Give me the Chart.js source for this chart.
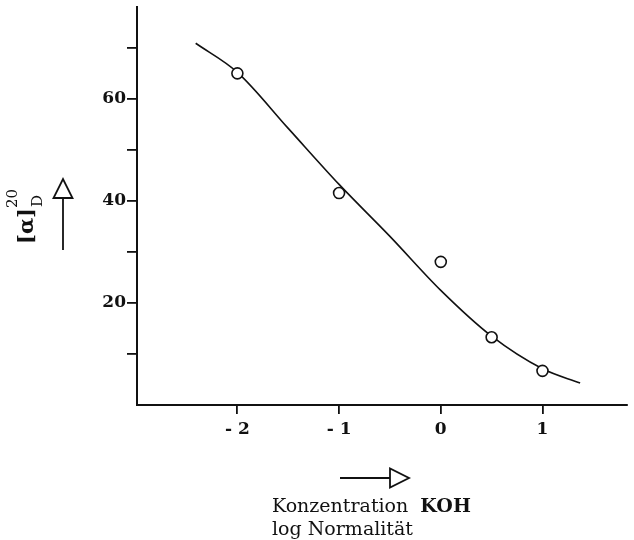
<!DOCTYPE html>
<html>
<head>
<meta charset="utf-8">
<script src="https://cdn.jsdelivr.net/npm/chart.js@4"></script>
<style>
  html, body { margin: 0; padding: 0; background: #fff; }
  #wrap { width: 634px; height: 540px; }
</style>
</head>
<body>
<div id="wrap"><canvas id="chart" width="634" height="540"></canvas></div>
<script>
// measured points (log normality KOH -> [alpha]D20)
const measuredX = [-2, -1, 0, 0.5, 1];
const measuredY = [65, 41.5, 28, 13.2, 6.6];

// fitted curve
const curveX = [-2.41, -2, -1.5, -1, -0.5, 0, 0.5, 1, 1.37];
const curveY = [70.9, 65.2, 54.2, 43.2, 33, 22.4, 13.4, 7.0, 4.2];

const xTicks = [-2, -1, 0, 1];
const xTickLabels = ["- 2", "- 1", "0", "1"];
const yTicks = [10, 20, 30, 40, 50, 60, 70];
const yTickLabels = { 20: "20", 40: "40", 60: "60" };

const xTitleLine1 = "Konzentration";
const xTitleKoh = "KOH";
const xTitleLine2 = "log Normalität";

const serif = "'DejaVu Serif', serif";
const ink = "#111";

const toPoints = (xs, ys) => xs.map((x, i) => ({ x, y: ys[i] }));

// axis titles with their arrows
const axisTitles = {
  id: "axisTitles",
  afterDraw(chart) {
    const ctx = chart.ctx;
    ctx.save();
    ctx.fillStyle = ink;
    ctx.strokeStyle = ink;
    ctx.lineWidth = 1.8;

    // y title, rotated: [α] with 20 above and D below
    ctx.save();
    ctx.translate(33, 244);
    ctx.rotate(-Math.PI / 2);
    ctx.textBaseline = "alphabetic";
    ctx.font = "bold 21px " + serif;
    ctx.fillText("[α]", 0, 0);
    const w = ctx.measureText("[α]").width;
    ctx.font = "15px " + serif;
    ctx.fillText("20", w, -16);
    ctx.fillText("D", w + 1, 9);
    ctx.restore();

    // up arrow
    ctx.beginPath();
    ctx.moveTo(63, 250);
    ctx.lineTo(63, 198);
    ctx.stroke();
    ctx.beginPath();
    ctx.moveTo(53.5, 198);
    ctx.lineTo(72.5, 198);
    ctx.lineTo(63, 179);
    ctx.closePath();
    ctx.stroke();

    // right arrow
    ctx.beginPath();
    ctx.moveTo(340, 478);
    ctx.lineTo(390, 478);
    ctx.stroke();
    ctx.beginPath();
    ctx.moveTo(390, 468.5);
    ctx.lineTo(390, 487.5);
    ctx.lineTo(409, 478);
    ctx.closePath();
    ctx.stroke();

    // x title, two lines
    ctx.textBaseline = "alphabetic";
    ctx.textAlign = "left";
    ctx.font = "19px " + serif;
    ctx.fillText(xTitleLine1, 272, 512);
    const kw = ctx.measureText(xTitleLine1 + "  ").width;
    ctx.font = "bold 19px " + serif;
    ctx.fillText(xTitleKoh, 272 + kw, 512);
    ctx.font = "19px " + serif;
    ctx.fillText(xTitleLine2, 272, 535);
    ctx.restore();
  },
};

new Chart(document.getElementById("chart"), {
  type: "scatter",
  data: {
    datasets: [
      {
        data: toPoints(curveX, curveY),
        showLine: true,
        cubicInterpolationMode: "monotone",
        borderColor: ink,
        borderWidth: 1.6,
        pointRadius: 0,
        order: 2,
      },
      {
        data: toPoints(measuredX, measuredY),
        showLine: false,
        pointRadius: 5.5,
        pointBorderWidth: 1.6,
        pointBorderColor: ink,
        pointBackgroundColor: "#fff",
        order: 1,
      },
    ],
  },
  options: {
    responsive: false,
    animation: false,
    events: [],
    layout: { padding: { left: 0, top: 4, right: 0, bottom: 0 } },
    plugins: {
      legend: { display: false },
      tooltip: { enabled: false },
    },
    scales: {
      x: {
        type: "linear",
        min: -2.987,
        max: 1.83,
        afterBuildTicks: (scale) => {
          scale.ticks = xTicks.map((value) => ({ value }));
        },
        afterFit: (scale) => {
          scale.height = 135;
          scale.paddingLeft = 0;
          scale.paddingRight = 0;
        },
        border: { display: true, color: ink, width: 2 },
        grid: {
          drawOnChartArea: false,
          drawTicks: true,
          tickLength: 9,
          color: ink,
          lineWidth: 1.8,
        },
        ticks: {
          color: ink,
          padding: 5,
          maxRotation: 0,
          font: { family: serif, weight: "bold", size: 17 },
          callback: (v) => xTickLabels[xTicks.indexOf(v)],
        },
      },
      y: {
        type: "linear",
        min: -0.1,
        max: 78,
        afterBuildTicks: (scale) => {
          scale.ticks = yTicks.map((value) => ({ value }));
        },
        afterFit: (scale) => {
          scale.width = 137;
          scale.paddingTop = 0;
          scale.paddingBottom = 0;
        },
        border: { display: true, color: ink, width: 2 },
        grid: {
          drawOnChartArea: false,
          drawTicks: true,
          tickLength: 10,
          color: ink,
          lineWidth: 1.8,
        },
        ticks: {
          color: ink,
          padding: 1,
          font: { family: serif, weight: "bold", size: 17 },
          callback: (v) => yTickLabels[v] || "",
        },
      },
    },
  },
  plugins: [axisTitles],
});
</script>
</body>
</html>
